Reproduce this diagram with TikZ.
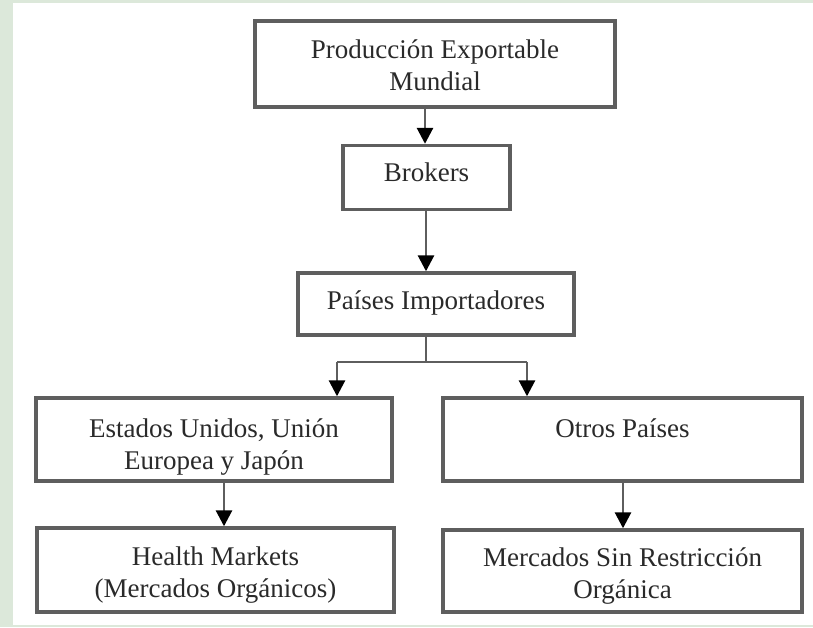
\documentclass[tikz,border=0pt]{standalone}
\usepackage{fontspec}
\setmainfont{Liberation Serif}
\usetikzlibrary{arrows.meta}
\definecolor{bggreen}{HTML}{DCE8DA}
\definecolor{boxline}{HTML}{5E5E5E}
\definecolor{txt}{HTML}{2A2A2A}
\newcommand{\tlines}[2]{\raisebox{#1}[0pt][0pt]{\begin{tabular}{@{}c@{}}#2\end{tabular}}}
\tikzset{
  box/.style={draw=boxline, line width=3.4pt, fill=white, rectangle,
    font=\fontsize{27}{32}\selectfont, text=txt, inner sep=0pt},
  conn/.style={draw=boxline, line width=2.8pt},
  arr/.style={conn, -{Triangle[length=16pt,width=16pt,color=black]}}
}
\begin{document}
\begin{tikzpicture}[x=1pt,y=-1pt]
\useasboundingbox (0,0) rectangle (813,627);
\fill[bggreen] (0,0) rectangle (813,627);
\fill[white] (13,3) rectangle (813,625);

\node[box, minimum width=360pt, minimum height=86pt] (top) at (435,64) {\tlines{-10.25pt}{Producción Exportable\\Mundial}};
\node[box, minimum width=167pt, minimum height=64pt] (brokers) at (426.5,177.5) {\tlines{-4.25pt}{Brokers}};
\node[box, minimum width=276pt, minimum height=62pt] (paises) at (436,304) {\tlines{-5.25pt}{Países Importadores}};
\node[box, minimum width=356pt, minimum height=83pt] (eeuu) at (214,439.5) {\tlines{-14.25pt}{Estados Unidos, Unión\\Europea y Japón}};
\node[box, minimum width=359pt, minimum height=83pt] (otros) at (622.5,439.5) {\tlines{-13.75pt}{Otros Países\\\mbox{}}};
\node[box, minimum width=357pt, minimum height=84pt] (health) at (215.5,570) {\tlines{-11.75pt}{Health Markets\\(Mercados Orgánicos)}};
\node[box, minimum width=359pt, minimum height=82pt] (sinres) at (622.5,571) {\tlines{-11.75pt}{Mercados Sin Restricción\\Orgánica}};

\coordinate (a1) at (425,0);
\coordinate (j) at (426,362);
\coordinate (jl) at (337,362);
\coordinate (jr) at (527,362);
\coordinate (dl) at (224,0);
\coordinate (dr) at (623,0);

\draw[arr] (a1 |- top.south) -- (a1 |- brokers.north);
\draw[arr] (j |- brokers.south) -- (j |- paises.north);
\draw[conn] (j |- paises.south) -- (j);
\draw[conn] (jl) -- (jr);
\draw[arr] (jl) -- (jl |- eeuu.north);
\draw[arr] (jr) -- (jr |- otros.north);
\draw[arr] (dl |- eeuu.south) -- (dl |- health.north);
\draw[arr] (dr |- otros.south) -- (dr |- sinres.north);
\end{tikzpicture}
\end{document}
